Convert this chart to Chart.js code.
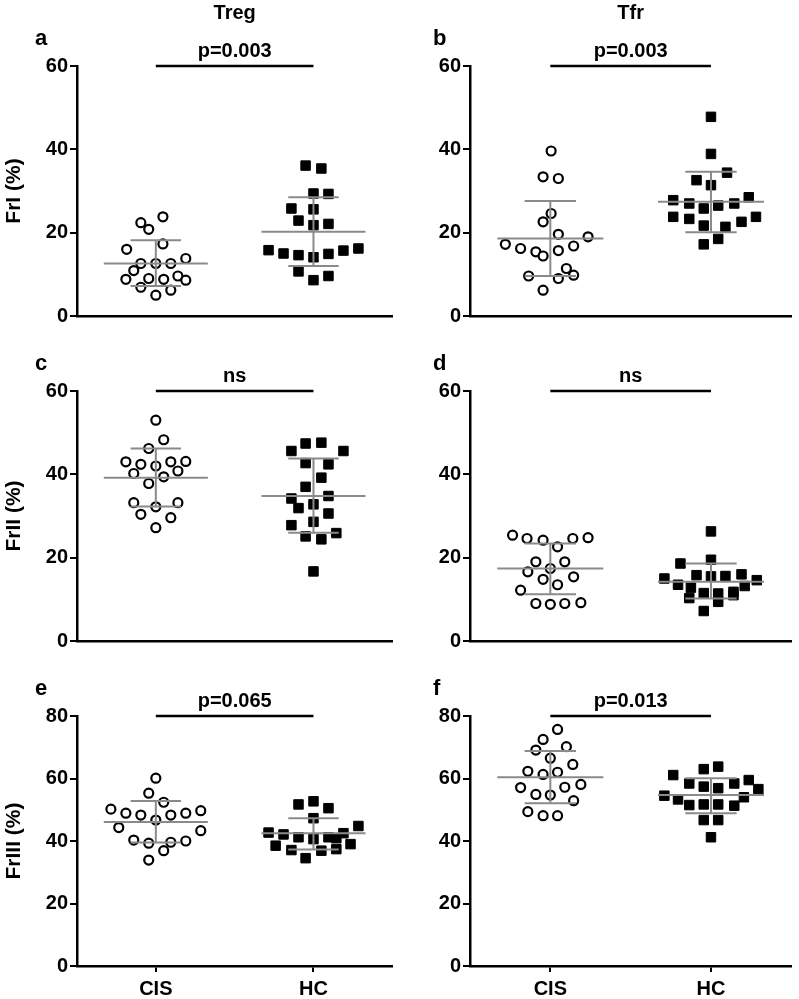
<!DOCTYPE html>
<html>
<head>
<meta charset="utf-8">
<script src="https://cdn.jsdelivr.net/npm/chart.js@4"></script>
<style>
body { margin: 0; background: #fff; }
#wrap { position: relative; width: 799px; height: 999px; }
canvas { position: absolute; }
</style>
</head>
<body>
<div id="wrap"></div>
<script>
// groups, panel labels
const groups = ['CIS', 'HC'];
const panelLetters = ['a', 'b', 'c', 'd', 'e', 'f'];
const columnTitles = ['Treg', 'Tfr'];
const rowTitles = ['FrI (%)', 'FrII (%)', 'FrIII (%)'];
const pLabels = ['p=0.003', 'p=0.003', 'ns', 'ns', 'p=0.065', 'p=0.013'];
const yMaxes = [60, 60, 60, 60, 80, 80];

// values per panel, dx = horizontal spread of each dot (in x units)
const aCIS = [16.0, 22.4, 20.8, 23.8, 17.3, 10.9, 8.8, 12.6, 12.6, 12.6, 13.8, 9.0, 8.8, 9.6, 8.6, 6.9, 5.0, 6.2];
const aCISdx = [-0.37, -0.19, -0.09, 0.09, 0.09, -0.28, -0.38, -0.19, 0, 0.19, 0.38, -0.09, 0.10, 0.28, 0.38, -0.19, 0, 0.19];
const aHC = [36.1, 35.4, 29.4, 29.3, 25.8, 25.6, 22.9, 21.8, 22.1, 15.8, 15.0, 14.6, 14.1, 14.9, 15.7, 16.2, 10.7, 8.6, 9.6];
const aHCdx = [-0.10, 0.10, 0, 0.19, -0.28, 0, -0.19, 0, 0.19, -0.57, -0.38, -0.19, 0, 0.19, 0.38, 0.57, -0.19, 0, 0.19];

const bCIS = [39.6, 33.4, 33.0, 24.6, 22.6, 19.6, 19.0, 17.2, 16.2, 15.4, 14.4, 15.7, 16.8, 11.4, 9.6, 9.0, 9.8, 6.2];
const bCISdx = [0.01, -0.09, 0.10, 0.01, -0.09, 0.10, 0.47, -0.56, -0.37, -0.18, -0.09, 0.10, 0.29, 0.20, -0.27, 0.10, 0.29, -0.09];
const bHC = [47.8, 38.9, 34.4, 32.6, 31.4, 27.8, 27.0, 25.8, 26.5, 27.0, 28.5, 23.8, 23.3, 21.7, 21.4, 22.6, 23.8, 18.5, 17.2];
const bHCdx = [0, 0, 0.20, -0.18, 0, -0.47, -0.27, -0.09, 0.09, 0.29, 0.47, -0.47, -0.27, -0.09, 0.18, 0.38, 0.56, 0.09, -0.09];

const cCIS = [53.0, 48.3, 46.2, 43.0, 42.4, 42.0, 43.0, 43.1, 40.2, 39.4, 40.8, 37.8, 33.2, 32.2, 33.2, 30.4, 29.6, 27.2];
const cCISdx = [0, 0.10, -0.09, -0.38, -0.19, 0, 0.19, 0.38, -0.28, 0.10, 0.28, -0.09, -0.28, 0, 0.28, -0.19, 0.19, 0];
const cHC = [45.6, 47.4, 47.6, 45.6, 42.7, 42.4, 39.2, 37.0, 34.2, 34.8, 31.9, 32.8, 30.6, 27.8, 28.6, 25.1, 24.4, 25.9, 16.7];
const cHCdx = [-0.28, -0.10, 0.10, 0.38, -0.10, 0.19, 0.10, -0.10, -0.28, 0.19, -0.19, 0, 0.19, -0.28, 0, -0.10, 0.10, 0.29, 0];

const dCIS = [25.4, 24.6, 24.2, 22.6, 24.6, 24.8, 19.0, 19.0, 16.6, 17.4, 14.8, 15.4, 13.5, 12.2, 9.0, 8.8, 9.0, 9.2];
const dCISdx = [-0.47, -0.29, -0.09, 0.09, 0.28, 0.47, -0.18, 0.18, -0.28, 0, -0.09, 0.29, 0.09, -0.37, -0.18, 0, 0.18, 0.38];
const dHC = [26.3, 19.5, 18.6, 15.0, 15.8, 15.5, 15.6, 16.0, 13.5, 14.6, 12.8, 13.2, 10.3, 11.5, 11.4, 11.8, 9.4, 7.2, 11.0];
const dHCdx = [0, 0, -0.38, -0.58, -0.18, 0, 0.18, 0.38, -0.41, 0.57, -0.25, 0.42, -0.27, -0.09, 0.09, 0.28, 0.09, -0.09, 0.28];

const eCIS = [60.1, 55.3, 52.4, 50.2, 48.9, 48.3, 46.7, 48.3, 48.9, 49.7, 44.3, 43.3, 40.3, 39.3, 39.6, 40.0, 36.9, 33.9];
const eCISdx = [0, -0.09, 0.10, -0.57, -0.38, -0.19, 0, 0.19, 0.38, 0.57, -0.47, 0.57, -0.28, -0.09, 0.19, 0.38, 0.10, -0.09];
const eHC = [51.7, 52.7, 50.5, 47.3, 44.8, 42.7, 42.1, 41.2, 40.6, 41.2, 42.5, 38.5, 37.1, 34.5, 36.9, 37.4, 39.0, 40.9];
const eHCdx = [-0.19, 0, 0.19, 0, 0.57, -0.57, -0.38, -0.19, 0, 0.19, 0.38, -0.48, -0.28, -0.10, 0.10, 0.29, 0.47, 0.29];

const fCIS = [75.7, 72.5, 69.1, 70.2, 66.5, 64.5, 62.3, 61.3, 62.0, 57.1, 54.9, 54.7, 57.2, 58.1, 52.9, 49.4, 48.1, 48.1];
const fCISdx = [0.09, -0.09, -0.18, 0.20, 0, 0.28, -0.28, -0.09, 0.09, -0.37, -0.18, 0, 0.18, 0.38, 0.29, -0.28, -0.09, 0.09];
const fHC = [63.8, 63.0, 61.1, 58.4, 57.4, 56.9, 58.4, 59.5, 56.6, 54.5, 53.3, 54.0, 51.5, 51.7, 51.7, 51.3, 46.7, 46.7, 41.2];
const fHCdx = [0.09, -0.09, -0.47, -0.27, -0.09, 0.09, 0.29, 0.47, 0.59, -0.58, -0.41, 0.41, -0.27, -0.09, 0.09, 0.29, -0.09, 0.09, 0];

// mean and SD as drawn (panels a..f)
const cisMean = [12.6, 18.6, 39.2, 17.4, 46.1, 60.4];
const cisSdLow = [7.2, 9.6, 32.3, 11.2, 39.5, 52.1];
const cisSdHigh = [18.2, 27.6, 46.2, 23.4, 52.8, 68.8];
const hcMean = [20.2, 27.4, 34.8, 14.2, 42.5, 54.7];
const hcSdLow = [12.0, 20.1, 26.0, 10.2, 37.3, 48.9];
const hcSdHigh = [28.5, 34.6, 43.8, 18.6, 47.3, 60.1];

const panels = [
  [aCIS, aCISdx, aHC, aHCdx],
  [bCIS, bCISdx, bHC, bHCdx],
  [cCIS, cCISdx, cHC, cHCdx],
  [dCIS, dCISdx, dHC, dHCdx],
  [eCIS, eCISdx, eHC, eHCdx],
  [fCIS, fCISdx, fHC, fHCdx]
];

const FONT = '"Liberation Sans", Arial, sans-serif';
const GREY = '#8a8a8a';
const groupX = [1, 3];

function dots(ys, dxs, center) {
  return ys.map((v, i) => ({ x: center + dxs[i], y: v }));
}

function meanSd(c, m, lo, hi) {
  const gap = { x: c, y: null };
  return [
    { x: c - 0.66, y: m }, { x: c + 0.66, y: m }, gap,
    { x: c - 0.32, y: hi }, { x: c + 0.32, y: hi }, gap,
    { x: c - 0.32, y: lo }, { x: c + 0.32, y: lo }, gap,
    { x: c, y: lo }, { x: c, y: hi }
  ];
}

const annotate = {
  id: 'annotate',
  afterDraw(chart, args, o) {
    const { ctx, chartArea } = chart;
    const xs = chart.scales.x, ys = chart.scales.y;
    ctx.save();
    ctx.fillStyle = '#000';
    ctx.textBaseline = 'alphabetic';
    ctx.font = 'bold 22px ' + FONT;
    ctx.textAlign = 'left';
    ctx.fillText(o.letter, o.letterX, 45);
    ctx.font = 'bold 20px ' + FONT;
    ctx.textAlign = 'center';
    ctx.fillText(o.p, xs.getPixelForValue(2), ys.getPixelForValue(o.yMax) - 9);
    if (o.title) {
      ctx.fillText(o.title, (chartArea.left + chartArea.right) / 2, 19);
    }
    ctx.restore();
  }
};

const wrap = document.getElementById('wrap');
const rowTops = [0, 325, 650];
const rowHeights = [335, 335, 349];

panels.forEach((p, i) => {
  const row = Math.floor(i / 2), col = i % 2;
  const lastRow = row === 2;
  const canvas = document.createElement('canvas');
  canvas.width = col === 0 ? 400 : 399;
  canvas.height = rowHeights[row];
  canvas.style.left = (col * 400) + 'px';
  canvas.style.top = rowTops[row] + 'px';
  wrap.appendChild(canvas);

  const [cisY, cisDx, hcY, hcDx] = p;
  const yMax = yMaxes[i];

  new Chart(canvas, {
    type: 'scatter',
    data: {
      datasets: [
        {
          data: meanSd(groupX[0], cisMean[i], cisSdLow[i], cisSdHigh[i]),
          showLine: true, spanGaps: false, borderColor: GREY, borderWidth: 2,
          pointRadius: 0, order: 0, clip: false
        },
        {
          data: meanSd(groupX[1], hcMean[i], hcSdLow[i], hcSdHigh[i]),
          showLine: true, spanGaps: false, borderColor: GREY, borderWidth: 2,
          pointRadius: 0, order: 0, clip: false
        },
        {
          data: [{ x: groupX[0], y: yMax }, { x: groupX[1], y: yMax }],
          showLine: true, borderColor: '#000', borderWidth: 2.5,
          pointRadius: 0, order: 0, clip: false
        },
        {
          data: dots(cisY, cisDx, groupX[0]),
          pointStyle: 'circle', pointRadius: 4.5, pointBorderWidth: 2.2,
          pointBorderColor: '#000', pointBackgroundColor: '#fff', order: 1, clip: false
        },
        {
          data: dots(hcY, hcDx, groupX[1]),
          pointStyle: 'rect', pointRadius: 6.7, pointBorderWidth: 1,
          pointBorderColor: '#000', pointBackgroundColor: '#000', order: 1, clip: false
        }
      ]
    },
    options: {
      responsive: false,
      animation: false,
      events: [],
      layout: { padding: { top: 66, left: 0, right: col === 0 ? 0 : 3, bottom: 0 } },
      plugins: {
        legend: { display: false },
        tooltip: { enabled: false },
        annotate: {
          letter: panelLetters[i],
          letterX: col === 0 ? 35 : 33,
          p: pLabels[i],
          yMax: yMax,
          title: row === 0 ? columnTitles[col] : null
        }
      },
      scales: {
        x: {
          type: 'linear', min: 0, max: 4,
          afterBuildTicks: s => { s.ticks = groupX.map(v => ({ value: v })); },
          afterFit: s => { s.height = canvas.height - 316; },
          grid: { drawOnChartArea: false, drawTicks: lastRow, tickLength: 6, color: '#000', lineWidth: 2 },
          border: { color: '#000', width: 2.5 },
          ticks: {
            display: lastRow,
            padding: 5,
            color: '#000',
            font: { family: FONT, size: 20, weight: 'bold' },
            callback: v => groups[groupX.indexOf(v)]
          }
        },
        y: {
          min: 0, max: yMax,
          afterFit: s => { s.width = col === 0 ? 77 : 70; },
          grid: { drawOnChartArea: false, drawTicks: true, tickLength: 7, color: '#000', lineWidth: 2 },
          border: { color: '#000', width: 2.5 },
          ticks: {
            stepSize: 20, padding: 2, color: '#000',
            font: { family: FONT, size: 20, weight: 'bold' }
          },
          title: {
            display: col === 0,
            text: rowTitles[row],
            color: '#000',
            padding: { top: 2, bottom: 0 },
            font: { family: FONT, size: 21, weight: 'bold' }
          }
        }
      }
    },
    plugins: [annotate]
  });
});
</script>
</body>
</html>
